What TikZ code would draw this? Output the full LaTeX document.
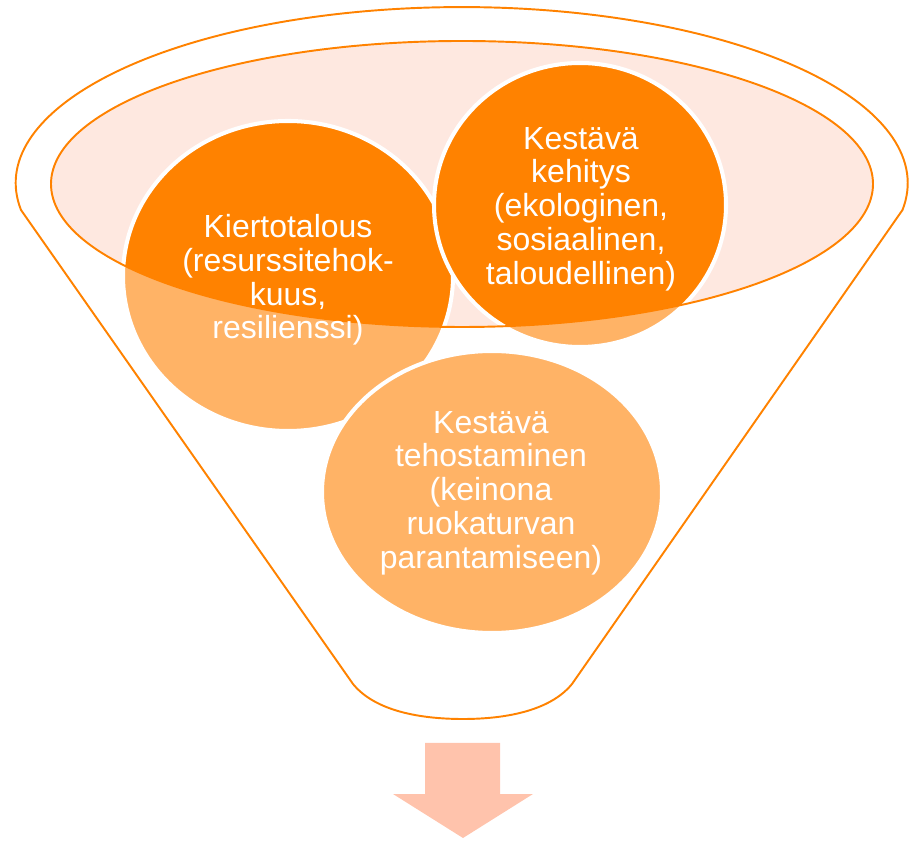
\documentclass[tikz,border=0pt]{standalone}
\usepackage{fontspec}
\setmainfont{Liberation Sans}
\definecolor{funnelorange}{HTML}{FF8200}
\definecolor{lightorange}{HTML}{FFB366}
\definecolor{rimpink}{HTML}{FEE8E0}
\definecolor{arrowpink}{HTML}{FFC3AC}

\begin{document}
\begin{tikzpicture}[x=0.02cm, y=0.02cm,
  outline/.style={draw=funnelorange, line width=1.1pt},
  bubbletext/.style={text=white, align=center, font=\fontsize{18.2}{19.2}\selectfont}]
\useasboundingbox (0,0) rectangle (915,841);

\coordinate (rim) at (462,657);
\coordinate (kierto) at (288,565);
\coordinate (kehitys) at (580,636);
\coordinate (tehostus) at (492,349);

% funnel
\draw[outline] (353,157) -- (21,631)
  arc[start angle=188.8, end angle=-8.8, x radius=446, y radius=176]
  -- (572,157) .. controls (550,130) and (505,122) .. (463,122)
  .. controls (420,122) and (375,130) .. (353,157);
\fill[rimpink] (rim) ellipse [x radius=411, y radius=143];

% bubbles, darker inside the rim
\foreach \bub/\rx/\ry in {kierto/165/155, kehitys/146/142, tehostus/170/141} {
  \fill[lightorange] (\bub) ellipse [x radius=\rx, y radius=\ry];
  \begin{scope}
    \clip (rim) ellipse [x radius=411, y radius=143];
    \fill[funnelorange] (\bub) ellipse [x radius=\rx, y radius=\ry];
  \end{scope}
  \draw[white, line width=2.3pt] (\bub) ellipse [x radius=\rx, y radius=\ry];
}
\draw[outline] (rim) ellipse [x radius=411, y radius=143];

\node[bubbletext] (kiertoteksti) at (288,561) {Kiertotalous\\(resurssitehok-\\kuus,\\resilienssi)};
\node[bubbletext] (kehitysteksti) at (581,632) {Kestävä\\kehitys\\(ekologinen,\\sosiaalinen,\\taloudellinen)};
\node[bubbletext] (tehostusteksti) at (491,348) {Kestävä\\tehostaminen\\(keinona\\ruokaturvan\\parantamiseen)};

% arrow
\fill[arrowpink] (425,98) -- (500,98) -- (500,47) -- (533,47) -- (463,3) -- (393,47) -- (425,47) -- cycle;
\end{tikzpicture}
\end{document}
